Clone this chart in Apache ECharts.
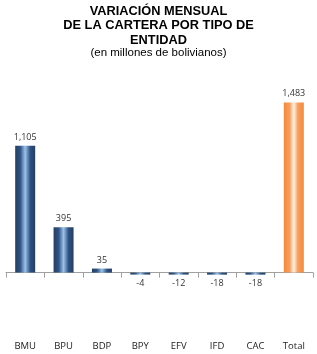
<!DOCTYPE html>
<html>
<head>
<meta charset="utf-8">
<script src="https://cdn.jsdelivr.net/npm/echarts@6/dist/echarts.min.js"></script>
<style>
  html, body { margin: 0; padding: 0; background: #fff; }
  #chart { width: 317px; height: 354px; }
</style>
</head>
<body>
<div id="chart"></div>
<script>
const categories = ['BMU', 'BPU', 'BDP', 'BPY', 'EFV', 'IFD', 'CAC', 'Total'];
const variation = [1105, 395, 35, -4, -12, -18, -18, 1483];

const blueBar = new echarts.graphic.LinearGradient(0, 0, 1, 0, [
  { offset: 0, color: '#243f63' },
  { offset: 0.25, color: '#2e5282' },
  { offset: 0.5, color: '#9cc2e8' },
  { offset: 0.75, color: '#2e5282' },
  { offset: 1, color: '#243f63' },
]);
const orangeBar = new echarts.graphic.LinearGradient(0, 0, 1, 0, [
  { offset: 0, color: '#f48a36' },
  { offset: 0.3, color: '#f7a060' },
  { offset: 0.5, color: '#fdf2e8' },
  { offset: 0.7, color: '#f7a060' },
  { offset: 1, color: '#f48a36' },
]);

const chart = echarts.init(document.getElementById('chart'));

chart.setOption({
  animation: false,
  title: [
    {
      text: 'VARIACIÓN MENSUAL\nDE LA CARTERA POR TIPO DE\nENTIDAD',
      left: 'center',
      top: 4,
      padding: 0,
      textStyle: {
        fontFamily: 'Liberation Sans',
        fontSize: 12.8,
        fontWeight: 'bold',
        color: '#000',
        lineHeight: 14.5,
      },
    },
    {
      text: '(en millones de bolivianos)',
      left: 'center',
      top: 47,
      padding: 0,
      textStyle: {
        fontFamily: 'Liberation Sans',
        fontSize: 11.5,
        fontWeight: 'normal',
        color: '#000',
      },
    },
  ],
  grid: { left: 6, right: 4, top: 89, bottom: 16 },
  xAxis: [
    {
      type: 'category',
      data: categories,
      position: 'bottom',
      axisLine: { onZero: true, lineStyle: { color: '#a0a0a0', width: 1 } },
      axisTick: { show: true, length: 5, alignWithLabel: false, lineStyle: { color: '#a0a0a0' } },
      axisLabel: { show: false },
    },
    {
      type: 'category',
      data: categories,
      position: 'bottom',
      axisLine: { show: false, onZero: false },
      axisTick: { show: false },
      axisLabel: {
        margin: 3,
        fontFamily: 'Open Sans',
        fontSize: 9.5,
        color: '#222',
      },
    },
  ],
  yAxis: {
    type: 'value',
    min: -570,
    max: 1600,
    show: false,
    splitLine: { show: false },
  },
  series: [
    {
      type: 'bar',
      xAxisIndex: 0,
      barWidth: 20,
      barMinHeight: 2,
      data: variation.map((v, i) => ({
        value: v,
        itemStyle: { color: categories[i] === 'Total' ? orangeBar : blueBar },
        label: { position: v < 0 ? 'bottom' : 'top' },
      })),
      label: {
        show: true,
        distance: 4,
        fontFamily: 'Open Sans',
        fontSize: 9,
        color: '#333',
        formatter: (p) => p.value.toLocaleString('en-US'),
      },
    },
  ],
});
</script>
</body>
</html>
